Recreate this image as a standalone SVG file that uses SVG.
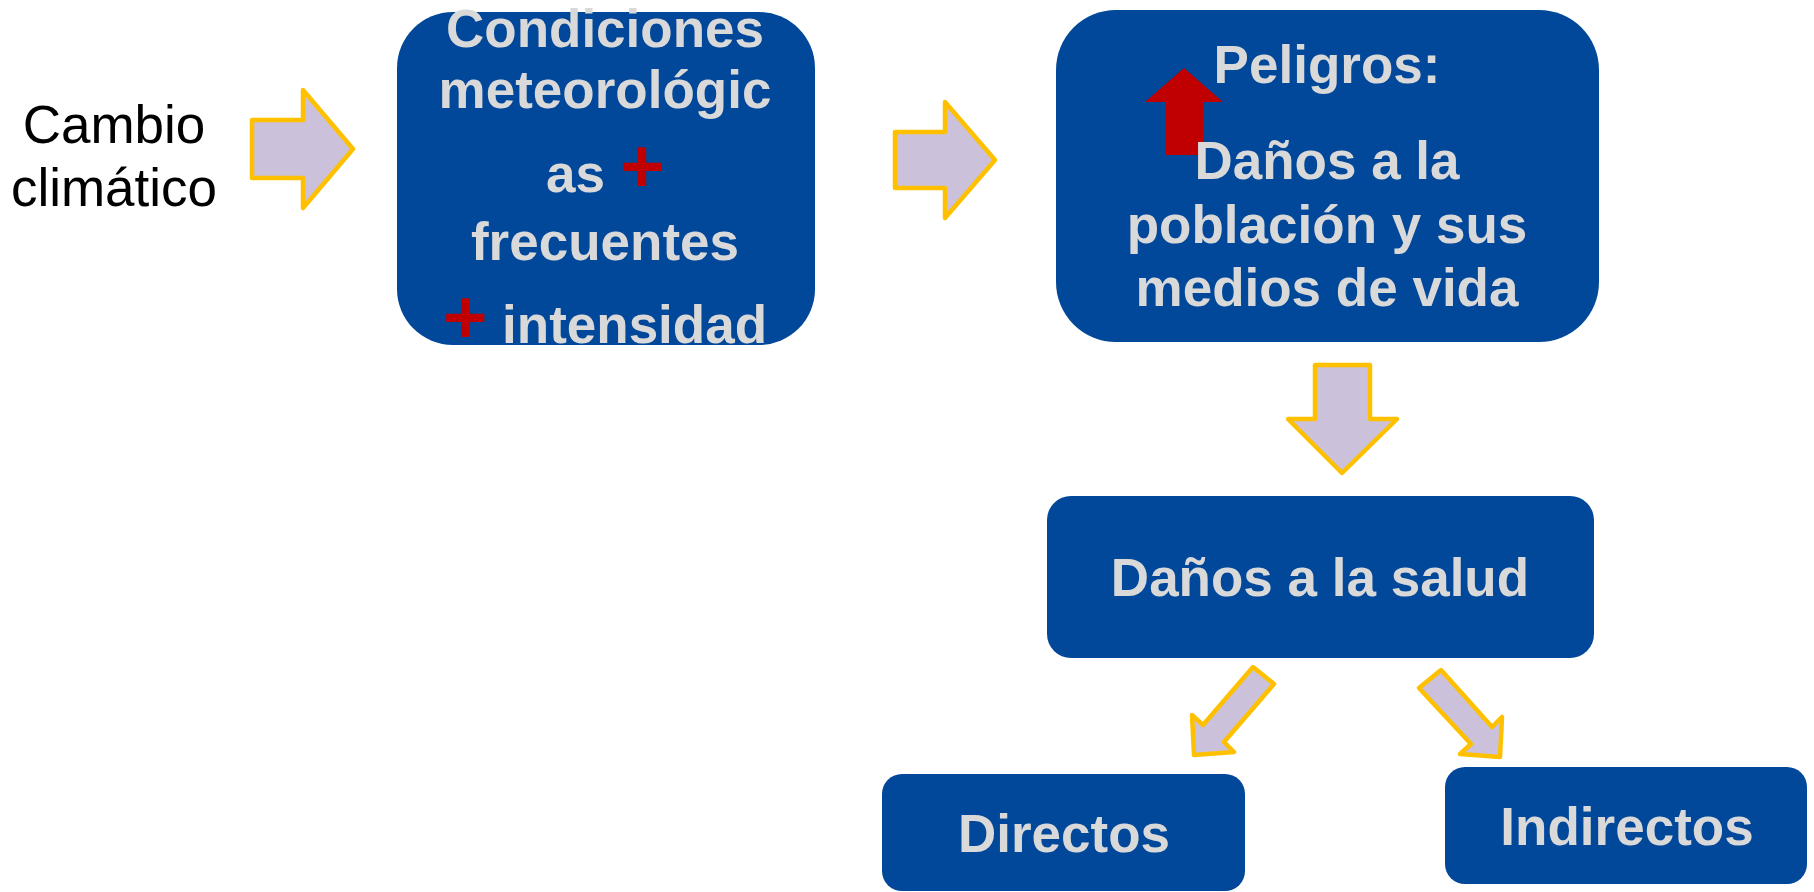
<svg xmlns="http://www.w3.org/2000/svg" width="1814" height="892" viewBox="0 0 1814 892">
<style>
.box{fill:#02489A;}
.t{font-family:"Liberation Sans",Arial,sans-serif;font-weight:bold;font-size:53px;fill:#D9D9D9;text-anchor:middle;}
.plus{fill:#C00000;font-size:76px;}
.arr{fill:#CCC1DA;stroke:#FFC000;stroke-width:4.5;stroke-linejoin:round;}
.plain{font-family:"Liberation Sans",Arial,sans-serif;font-size:53px;fill:#000;text-anchor:middle;}
</style>
<rect width="1814" height="892" fill="#FFFFFF"/>
<g id="cambio">
<text class="plain" x="114" y="143">Cambio</text>
<text class="plain" x="114" y="206">climático</text>
</g>
<g id="condiciones">
<rect class="box" x="397" y="12" width="418" height="333" rx="56" ry="56"/>
<text class="t" x="605" y="47">Condiciones</text>
<text class="t" x="605" y="108">meteorológic</text>
<text class="t" x="605" y="192">as <tspan class="plus">+</tspan></text>
<text class="t" x="605" y="260">frecuentes</text>
<text class="t" x="605" y="343"><tspan class="plus">+</tspan> intensidad</text>
</g>
<g id="peligros">
<rect class="box" x="1056" y="10" width="543" height="332" rx="60" ry="60"/>
<polygon points="1184,68 1223,102 1203,102 1203,155 1166,155 1166,102 1145,102" fill="#C00000"/>
<text class="t" x="1327" y="83">Peligros:</text>
<text class="t" x="1327" y="179">Daños a la</text>
<text class="t" x="1327" y="243">población y sus</text>
<text class="t" x="1327" y="306">medios de vida</text>
</g>
<g id="salud">
<rect class="box" x="1047" y="496" width="547" height="162" rx="24" ry="24"/>
<text class="t" x="1320" y="596">Daños a la salud</text>
</g>
<g id="directos">
<rect class="box" x="882" y="774" width="363" height="117" rx="20" ry="20"/>
<text class="t" x="1064" y="852">Directos</text>
</g>
<g id="indirectos">
<rect class="box" x="1445" y="767" width="362" height="117" rx="20" ry="20"/>
<text class="t" x="1627" y="845">Indirectos</text>
</g>
<g id="connectors">
<polygon class="arr" points="252,120 303,120 303,90 353,149 303,208 303,178 252,178"/>
<polygon class="arr" points="895,132 945,132 945,102 995,160 945,218 945,188 895,188"/>
<polygon class="arr" points="1315,365 1370,365 1370,419 1397,419 1342,473 1288,419 1315,419"/>
<polygon class="arr" points="1253,667 1274,684 1224,742 1234,752 1194,755 1192,715 1203,725"/>
<polygon class="arr" points="1419,688 1441,670 1492,727 1502,717 1500,757 1460,754 1471,744"/>
</g>
</svg>
